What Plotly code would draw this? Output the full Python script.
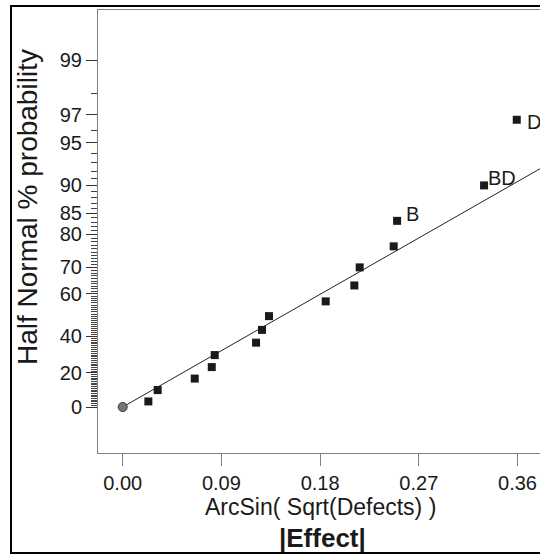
from statistics import NormalDist
import plotly.graph_objects as go

# ---- data ----
effect = [0.0234, 0.0319, 0.0657, 0.0812, 0.0839, 0.1216, 0.1270, 0.1334,
          0.1851, 0.2112, 0.2161, 0.2471, 0.2502, 0.3295, 0.3593]
prob = [3.3, 10.0, 16.7, 23.3, 30.0, 36.7, 43.3, 50.0,
        56.7, 63.3, 70.0, 76.7, 83.3, 90.0, 96.7]
labels = ["", "", "", "", "", "", "", "", "", "", "", "", "B", "BD", "D"]

origin_effect = [0.0]
origin_prob = [0.0]

fit_effect = [0.0, 0.40]
fit_prob = [0.0, 93.7]

x_ticks = [0.00, 0.09, 0.18, 0.27, 0.36]
x_ticktext = ["0.00", "0.09", "0.18", "0.27", "0.36"]
y_major = [0, 20, 40, 60, 70, 80, 85, 90, 95, 97, 99]
y_minor = [v for v in range(1, 95) if v not in y_major] + [96, 98]

# label placement (pixel offsets from the marker) - style only
label_shift = {"B": (6.5, 7), "BD": (1.5, 7.5), "D": (8, -2.5)}

nd = NormalDist()


def hn(p):
    """half-normal quantile for a % probability"""
    return nd.inv_cdf(0.5 + p / 200.0)


FONT = "Liberation Sans, Arial, sans-serif"
TXT = "#1a1a1a"
AX = "#808080"

fig = go.Figure()

fig.add_trace(go.Scatter(
    x=fit_effect, y=[hn(p) for p in fit_prob], mode="lines",
    line=dict(color="#222222", width=1), hoverinfo="skip", showlegend=False))

fig.add_trace(go.Scatter(
    x=effect, y=[hn(p) for p in prob], mode="markers",
    marker=dict(symbol="square", size=8, color="#1a1a1a", line=dict(width=0)),
    showlegend=False))

fig.add_trace(go.Scatter(
    x=origin_effect, y=[hn(p) for p in origin_prob], mode="markers",
    marker=dict(symbol="circle", size=9, color="#777777",
                line=dict(color="#333333", width=1)),
    showlegend=False))

annotations = []
for xv, pv, lab in zip(effect, prob, labels):
    if not lab:
        continue
    dx, dy = label_shift[lab]
    annotations.append(dict(
        text=lab, x=xv, y=hn(pv), xref="x", yref="y", showarrow=False,
        xanchor="left", yanchor="middle", xshift=dx, yshift=dy,
        font=dict(family=FONT, size=20, color=TXT)))

annotations += [
    dict(text="Half Normal % probability", xref="paper", yref="paper",
         x=(27 - 98) / 442, y=1 - (207 - 10) / 443, textangle=-90,
         showarrow=False, xanchor="center", yanchor="middle",
         font=dict(family=FONT, size=28, color=TXT)),
    dict(text="ArcSin( Sqrt(Defects) )", xref="paper", yref="paper",
         x=(320 - 98) / 442, y=1 - (507 - 10) / 443,
         showarrow=False, xanchor="center", yanchor="middle",
         font=dict(family=FONT, size=23, color=TXT)),
    dict(text="<b>|Effect|</b>", xref="paper", yref="paper",
         x=(322 - 98) / 442, y=1 - (538 - 10) / 443,
         showarrow=False, xanchor="center", yanchor="middle",
         font=dict(family=FONT, size=26, color=TXT)),
]

fig.update_layout(
    width=540, height=555,
    margin=dict(l=98, r=0, t=10, b=102),
    paper_bgcolor="white", plot_bgcolor="white",
    font=dict(family=FONT, size=20, color=TXT),
    xaxis=dict(
        range=[-0.02252, 0.3805], tickmode="array", tickvals=x_ticks,
        ticktext=x_ticktext, ticks="outside", ticklen=12, tickcolor=AX,
        tickwidth=1, showline=True, linecolor=AX, linewidth=1, mirror=True,
        showgrid=False, zeroline=False,
        tickfont=dict(family=FONT, size=20, color=TXT)),
    yaxis=dict(
        range=[-0.3415, 2.947], tickmode="array",
        tickvals=[hn(p) for p in y_major], ticktext=[str(p) for p in y_major],
        ticks="outside", ticklen=11, tickcolor="#333333", tickwidth=1,
        showline=True, linecolor=AX, linewidth=1, mirror=False,
        showgrid=False, zeroline=False,
        tickfont=dict(family=FONT, size=20, color=TXT),
        minor=dict(tickmode="array", tickvals=[hn(p) for p in y_minor],
                   ticks="outside", ticklen=6, tickcolor="#444444",
                   tickwidth=1, showgrid=False)),
    shapes=[dict(type="rect", xref="paper", yref="paper",
                 x0=-0.1968, x1=1.05, y0=-0.2257, y1=1.00903,
                 line=dict(color="black", width=2), fillcolor="rgba(0,0,0,0)",
                 layer="above")],
    annotations=annotations,
)

fig.write_html(
    "out.html",
    config={"displayModeBar": False},
    post_script="document.body.style.margin='0px';"
                "document.body.style.overflow='hidden';")
